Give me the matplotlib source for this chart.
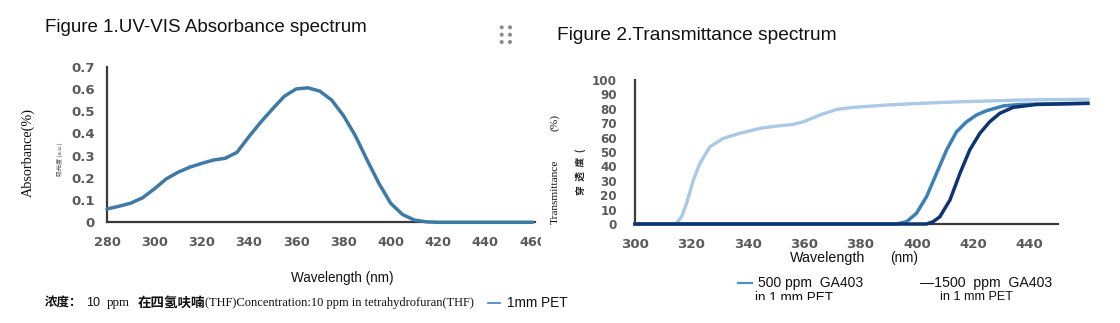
import matplotlib
matplotlib.use("Agg")
import matplotlib.pyplot as plt
from matplotlib.transforms import Bbox
from matplotlib.patches import Circle

# ---------------- data ----------------
abs_nm = [280, 285, 290, 295, 300, 305, 310, 315, 320, 325, 330, 335, 340, 345,
          350, 355, 360, 365, 370, 375, 380, 385, 390, 395, 400, 405, 410, 415,
          420, 425, 430, 435, 440, 445, 450, 455, 460]
abs_val = [0.06, 0.072, 0.086, 0.11, 0.15, 0.195, 0.225, 0.248, 0.265, 0.28, 0.288,
           0.315, 0.385, 0.45, 0.51, 0.567, 0.60, 0.605, 0.59, 0.55, 0.48, 0.39,
           0.28, 0.175, 0.085, 0.035, 0.01, 0.002, 0, 0, 0, 0, 0, 0, 0, 0, 0]
abs_xticks = [280, 300, 320, 340, 360, 380, 400, 420, 440, 460]
abs_yticks = [0, 0.1, 0.2, 0.3, 0.4, 0.5, 0.6, 0.7]
abs_yticklabels = ["0", "0.1", "0.2", "0.3", "0.4", "0.5", "0.6", "0.7"]

pet_nm = [300, 314.5, 316.5, 318.3, 320.7, 323, 326.6, 331.3, 337.2, 344.3, 350.2,
          356.2, 359.7, 365.6, 371.5, 377.4, 389.2, 401, 412.8, 424.6, 436.4, 448, 460.6]
pet_T = [0, 0, 5, 14.4, 30.5, 42, 53.7, 59.5, 63, 66.4, 68, 69.2, 71, 75.7, 79.6,
         81, 82.6, 83.8, 84.7, 85.4, 86.1, 86.4, 86.6]
ppm500_nm = [300, 392.8, 396.3, 399.8, 403.4, 406.9, 410.5, 414, 417.6, 421.1,
             424.7, 430.6, 436.5, 448.3, 460.6]
ppm500_T = [0, 0, 1.6, 7.4, 19, 35, 51.4, 64, 71, 75.7, 78.7, 82, 83, 83.5, 83.8]
ppm1500_nm = [300, 403.4, 405.7, 408.1, 411.7, 415.2, 418.7, 422.3, 425.8, 429.4,
              434.1, 442.4, 460.6]
ppm1500_T = [0, 0, 1.6, 5, 16.7, 35, 51.4, 63, 71, 76.9, 81, 83, 83.8]
tr_xticks = [300, 320, 340, 360, 380, 400, 420, 440]
tr_yticks = [0, 10, 20, 30, 40, 50, 60, 70, 80, 90, 100]

# ---------------- layout helpers ----------------
W, H = 1120, 323
fig = plt.figure(figsize=(W / 100, H / 100), dpi=100)
renderer = fig.canvas.get_renderer()

SANS = "Liberation Sans"
SERIF = "Liberation Serif"
CJK = "Noto Sans CJK SC"
TICKF = "DejaVu Sans"


def fx(px):
    return px / W


def fy(py):
    return 1 - py / H


def put(x0, y, s, target_w=None, fs=10, **kw):
    kw.setdefault("va", "center")
    kw.setdefault("ha", "left")
    t = fig.text(fx(x0), fy(y), s, fontsize=fs, **kw)
    if target_w:
        w = t.get_window_extent(renderer).width
        t.set_fontsize(fs * target_w / w)
    return t


def axes_px(l, r, top, bottom):
    return fig.add_axes([fx(l), fy(bottom), (r - l) / W, (bottom - top) / H])


# ---------------- Figure 1 ----------------
ax1 = axes_px(107, 535, 66.7, 222.3)
ax1.plot(abs_nm, abs_val, color="#3d7aa5", lw=2.5, solid_joinstyle="round",
         solid_capstyle="round", clip_on=False, zorder=3)
ax1.set_xlim(280, 461)
ax1.set_ylim(0, 0.7)
ax1.set_xticks(abs_xticks)
ax1.set_xticklabels([str(v) for v in abs_xticks])
ax1.set_yticks(abs_yticks)
ax1.set_yticklabels(abs_yticklabels)
for s in ["top", "right"]:
    ax1.spines[s].set_visible(False)
for s in ["left", "bottom"]:
    ax1.spines[s].set_color("#3a3a3a")
    ax1.spines[s].set_linewidth(1.6)
ax1.tick_params(axis="both", length=0, colors="#5a5a5a")
ax1.tick_params(axis="x", pad=10, labelsize=9.3)
ax1.tick_params(axis="y", pad=9, labelsize=9.5)
for lab in ax1.get_xticklabels() + ax1.get_yticklabels():
    lab.set_fontfamily(TICKF)
    lab.set_fontweight("bold")
last = ax1.get_xticklabels()[-1]
last.set_clip_on(True)
last.set_clip_box(Bbox.from_extents(0, 0, 541, H))

put(44.6, 28, "Figure 1.UV-VIS Absorbance spectrum", 323, 15, family=SANS, color="#111111")
put(28.5, 152.5, "Absorbance(%)", None, 10.2, family=SERIF, rotation=90, ha="center",
    color="#111111")
put(60, 159, "吸光度 (a.u.)", None, 4.3, family=[CJK, "DejaVu Sans"], rotation=90,
    ha="center", color="#444444")
put(291, 278, "Wavelength (nm)", 103, 10, family=SANS, color="#111111")

yb = 302.7
put(44.6, yb, "浓度：", 37.4, 9, family=[CJK], fontweight="bold", color="#111111")
put(85.7, yb, "10", 14.3, 9.5, family=SANS, color="#111111")
put(107, yb, "ppm", 23, 9.5, family=SERIF, color="#111111")
put(137.5, yb, "在四氢呋喃", 67.5, 9, family=[CJK], fontweight="bold", color="#111111")
put(205, yb, "(THF)Concentration:10 ppm in tetrahydrofuran(THF)", 271, 9.5,
    family=SERIF, color="#111111")
fig.add_artist(plt.Line2D([fx(487.5), fx(500)], [fy(yb), fy(yb)], color="#4a8fd0",
                          lw=1.3, transform=fig.transFigure))
put(507, yb, "1mm PET", 61, 9.5, family=SANS, color="#111111")

# drag-handle dots
for dx in (501.7, 510):
    for dy in (27.3, 34.7, 42):
        fig.add_artist(Circle((dx, H - dy), 2.0, transform=None, color="#8a8a8a", lw=0))

# ---------------- Figure 2 ----------------
ax2 = axes_px(635, 1089, 80, 224)
ax2.plot(pet_nm, pet_T, color="#a9c9e6", lw=2.4, solid_joinstyle="round",
         clip_on=False, zorder=3)
ax2.plot(ppm500_nm, ppm500_T, color="#3c80b5", lw=2.5, solid_joinstyle="round",
         clip_on=False, zorder=4)
ax2.plot(ppm1500_nm, ppm1500_T, color="#0e3471", lw=2.5, solid_joinstyle="round",
         clip_on=False, zorder=5)
ax2.set_xlim(300, 461)
ax2.set_ylim(0, 100)
ax2.set_xticks(tr_xticks)
ax2.set_xticklabels([str(v) for v in tr_xticks])
ax2.set_yticks(tr_yticks)
ax2.set_yticklabels([str(v) for v in tr_yticks])
for s in ["top", "right"]:
    ax2.spines[s].set_visible(False)
for s in ["left", "bottom"]:
    ax2.spines[s].set_color("#3a3a3a")
    ax2.spines[s].set_linewidth(1.6)
ax2.spines["bottom"].set_bounds(300, 450)
ax2.tick_params(axis="both", length=0, colors="#5a5a5a")
ax2.tick_params(axis="x", pad=10, labelsize=9.6)
ax2.tick_params(axis="y", pad=13, labelsize=8.6)
for lab in ax2.get_xticklabels() + ax2.get_yticklabels():
    lab.set_fontfamily(TICKF)
    lab.set_fontweight("bold")

put(556.6, 35, "Figure 2.Transmittance spectrum", 281, 14.5, family=SANS, color="#111111")
put(555, 191.7, "Transmittance", None, 8.2, family=SERIF, rotation=90, ha="center",
    color="#111111")
put(555, 122.5, "(%)", None, 8.2, family=SERIF, rotation=90, ha="center", color="#111111")
put(581, 172, "穿  透  度  (", None, 7, family=[CJK], fontweight="bold", rotation=90,
    ha="center", color="#222222")
put(790, 258, "Wavelength", 75, 10.5, family=SANS, color="#111111")
put(890, 258, "(nm)", 28, 10.5, family=SANS, color="#111111")

yl1, yl2 = 282.5, 297.5
clip_bottom = Bbox.from_extents(0, H - 300, W, H)
fig.add_artist(plt.Line2D([fx(738), fx(752)], [fy(yl1), fy(yl1)], color="#4a8fd0",
                          lw=1.6, transform=fig.transFigure))
put(758, yl1, "500 ppm  GA403", 105, 11, family=SANS, color="#111111")
t = put(755, yl2, "in 1 mm PET", 78, 11, family=SANS, color="#111111")
t.set_clip_on(True); t.set_clip_box(clip_bottom)
put(920, yl1, "—1500  ppm  GA403", 132, 11, family=SANS, color="#111111")
t = put(940, yl2, "in 1 mm PET", 73, 11, family=SANS, color="#111111")
t.set_clip_on(True); t.set_clip_box(clip_bottom)

fig.savefig("out.png", dpi=100, facecolor="white")
